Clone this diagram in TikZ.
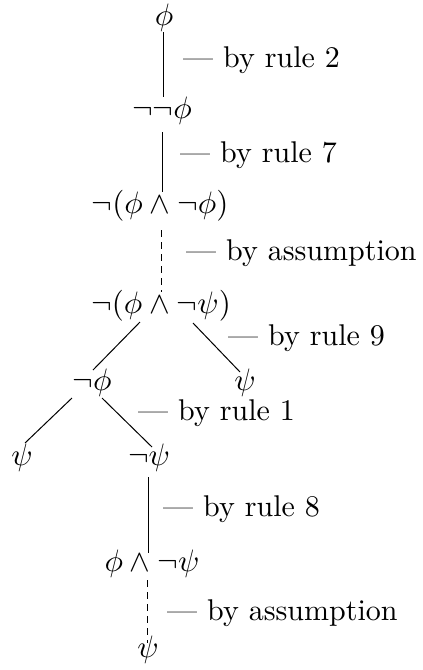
\documentclass[tikz,border=0pt]{standalone}
\usepackage{graphicx}
\newcommand\mth[1]{\scalebox{3.1}{$#1$}}
\newcommand\lbl[1]{\scalebox{3.0}{#1}}
\begin{document}
\begin{tikzpicture}[x=1pt,y=-1pt,
  f/.style={inner sep=0pt,anchor=base},
  lab/.style={inner sep=0pt,anchor=base west},
  con/.style={line width=1pt},
  dcon/.style={line width=1pt,dash pattern=on 7pt off 5pt}]
\useasboundingbox (0,0) rectangle (423,670);
\node[f] (n1) at (164,25) {\mth{\phi}};
\node[f] (n2) at (162,118) {\mth{\neg\neg\phi}};
\node[f] (n3) at (160,213) {\mth{\neg(\phi\wedge\neg\phi)}};
\node[f] (n4) at (161,313) {\mth{\neg(\phi\wedge\neg\psi)}};
\node[f] (n5) at (92,390) {\mth{\neg\phi}};
\node[f] (n6) at (245,390) {\mth{\psi}};
\node[f] (n7) at (22,465) {\mth{\psi}};
\node[f] (n8) at (149,465) {\mth{\neg\psi}};
\node[f] (n9) at (152,571) {\mth{\phi\wedge\neg\psi}};
\node[f] (n10) at (148,657) {\mth{\psi}};
\node[lab] (l1) at (183,67) {\lbl{--- by rule 2}};
\node[lab] (l2) at (180,162) {\lbl{--- by rule 7}};
\node[lab] (l3) at (186,260) {\lbl{--- by assumption}};
\node[lab] (l4) at (228,345) {\lbl{--- by rule 9}};
\node[lab] (l5) at (138,420) {\lbl{--- by rule 1}};
\node[lab] (l6) at (163,516) {\lbl{--- by rule 8}};
\node[lab] (l7) at (167,620) {\lbl{--- by assumption}};
\draw[con] ([shift={(-1,7)}]n1.base) -- ([shift={(1,-21)}]n2.base);
\draw[con] ([shift={(0,14)}]n2.base) -- ([shift={(2,-21)}]n3.base);
\draw[dcon] ([shift={(1,17)}]n3.base) -- ([shift={(0,-21)}]n4.base);
\draw[con] ([shift={(-21,9)}]n4.base) -- ([shift={(1,-20)}]n5.base);
\draw[con] ([shift={(32,10)}]n4.base) -- ([shift={(-5,-18)}]n6.base);
\draw[con] ([shift={(-20,8)}]n5.base) -- ([shift={(3,-22)}]n7.base);
\draw[con] ([shift={(10,8)}]n5.base) -- ([shift={(3,-18)}]n8.base);
\draw[con] ([shift={(-1,12)}]n8.base) -- ([shift={(-4,-18)}]n9.base);
\draw[dcon] ([shift={(-5,9)}]n9.base) -- ([shift={(-1,-14)}]n10.base);
\end{tikzpicture}
\end{document}
